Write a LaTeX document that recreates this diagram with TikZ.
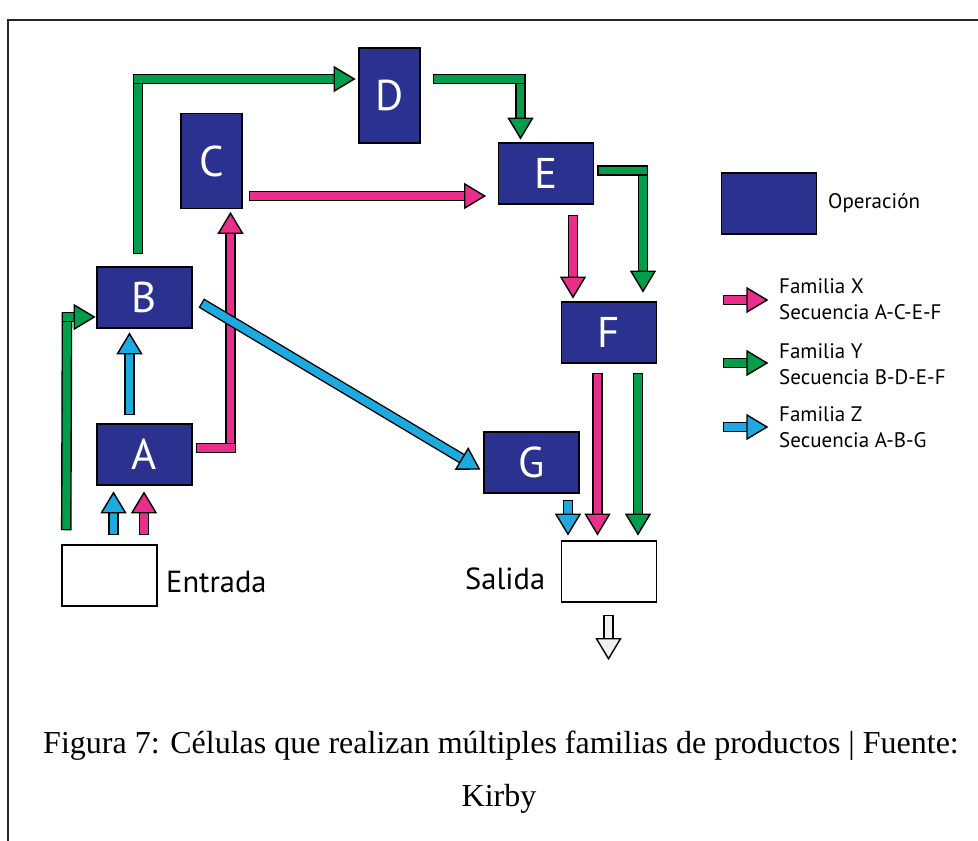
\documentclass[tikz,border=0pt]{standalone}
\usepackage{fontspec}
\setmainfont{Liberation Serif}
\newfontfamily\labelfont{PT Sans}
\usetikzlibrary{calc}

\definecolor{opblue}{RGB}{43,49,143}
\definecolor{famx}{RGB}{233,46,139}
\definecolor{famy}{RGB}{0,158,75}
\definecolor{famz}{RGB}{28,170,224}
\definecolor{outgray}{RGB}{240,240,240}

\tikzset{
  op/.style={draw=black, line width=1.5pt, fill=opblue, text=white,
    minimum width=95pt, minimum height=61pt, inner sep=0pt,
    font=\labelfont\fontsize{43}{43}\selectfont},
  opv/.style={op, minimum width=61pt, minimum height=95pt},
  port/.style={draw=black, line width=1.5pt, fill=white,
    minimum width=95pt, minimum height=61pt, inner sep=0pt},
  shaft/.style={draw=#1, line width=7.8pt, line cap=butt,
    preaction={draw=black, line width=10.6pt, line cap=butt,
      shorten <=-1.4pt, shorten >=-1.4pt}},
  pics/tip/.style={code={
    \draw[fill=#1, line width=1.4pt, line join=miter]
      (0,0) -- (-20,12) -- (-20,-12) -- cycle;}},
  lbl/.style={inner sep=0pt, font=\labelfont\fontsize{30.5}{30.5}\selectfont},
  legtxt/.style={inner sep=0pt, anchor=west, align=left,
    font=\labelfont\fontsize{21}{25.5}\selectfont},
}

\begin{document}
\begin{tikzpicture}[x=1pt, y=-1pt]
\useasboundingbox (0,0) rectangle (978,841);
\fill[white] (0,0) rectangle (978,841);

% frame
\draw[line width=2.2pt, black!85, line join=miter] (978,20) -- (8,20) -- (8,841);

% operations
\node[op]  (A) at (144.5,454.5) {A};
\node[op]  (B) at (144.5,297.5) {B};
\node[opv] (C) at (211.5,161)   {C};
\node[opv] (D) at (389.5,95.5)  {D};
\node[op]  (E) at (546,173.5)   {E};
\node[op]  (F) at (609,332.5)   {F};
\node[op]  (G) at (531.5,462.5) {G};

% input and output
\node[port] (in)  at (109.5,575.5) {};
\node[port] (out) at (609,571.5)   {};
\node[lbl, anchor=base west] (inlbl)  at (166,592) {Entrada};
\node[lbl, anchor=base west] (outlbl) at (465,589) {Salida};

% family Y: entrada -> B
\draw[shaft=famy] ($(in.north west)+(5,-15.4)$) -- (67,313.5);
\draw[shaft=famy] (63,317) -- (78,317);
\pic at ($(B.west)+(-2,19.5)$) {tip=famy};

% family Z and X: entrada -> A
\draw[shaft=famz] ($(in.north)+(4,-10.4)$) -- (113.5,511);
\pic[rotate=90] at ($(A.south)+(-31,7)$) {tip=famz};
\draw[shaft=famx] ($(in.north)+(34.5,-10.4)$) -- (144,511);
\pic[rotate=90] at ($(A.south)+(-0.5,7)$) {tip=famx};

% family Z: A -> B
\draw[shaft=famz] ($(A.north)+(-15,-9.4)$) -- (129.5,352);
\pic[rotate=90] at ($(B.south)+(-15,5)$) {tip=famz};

% family X: A -> C
\draw[shaft=famx] (230.5,450.6) -- (230.5,232);
\draw[shaft=famx] ($(A.east)+(4.4,-6.5)$) -- (234.6,448);
\pic[rotate=90] at ($(C.south)+(19,4)$) {tip=famx};

% family Y: B -> D
\draw[shaft=famy] ($(B.north)+(-6.5,-13.4)$) -- (138,75.4);
\draw[shaft=famy] (134.4,79) -- (337,79);
\pic at ($(D.west)+(-4,-16.5)$) {tip=famy};

% family X: C -> E
\draw[shaft=famx] ($(C.east)+(7.4,35)$) -- (467,196);
\pic at ($(E.west)+(-13,22.5)$) {tip=famx};

% family Y: D -> E
\draw[shaft=famy] (520.5,75.4) -- (520.5,121);
\draw[shaft=famy] ($(D.east)+(13.4,-16.5)$) -- (524.4,79);
\pic[rotate=-90] at ($(E.north)+(-25.5,-4)$) {tip=famy};

% family Y: E -> F
\draw[shaft=famy] (643,166.6) -- (643,274);
\draw[shaft=famy] ($(E.east)+(4.4,-3)$) -- (646.9,170.5);
\pic[rotate=-90] at ($(F.north)+(34,-10)$) {tip=famy};

% family X: E -> F
\draw[shaft=famx] ($(E.south)+(27,11.4)$) -- (573,280);
\pic[rotate=-90] at ($(F.north)+(-36,-4)$) {tip=famx};

% family Z: B -> G
\coordinate (zs) at ($(B.east)+(8.5,5.5)$);
\coordinate (zt) at ($(G.west)+(-4,6.5)$);
\draw[shaft=famz] ($(zs)!1.4pt!(zt)$) -- ($(zt)!19pt!(zs)$);
\pic[rotate=-30.7] at (zt) {tip=famz};

% F and G -> salida
\draw[shaft=famx] ($(F.south)+(-11.5,10.4)$) -- (597.5,517);
\pic[rotate=-90] at ($(out.north)+(-11.5,-6)$) {tip=famx};
\draw[shaft=famy] ($(F.south)+(29,10.4)$) -- (638,517);
\pic[rotate=-90] at ($(out.north)+(29,-6)$) {tip=famy};
\draw[shaft=famz] ($(G.south)+(36.5,7.4)$) -- (568,517);
\pic[rotate=-90] at ($(out.north)+(-41,-6)$) {tip=famz};

% salida -> exit
\coordinate (exit) at ($(out.south)+(-0.5,56)$);
\draw[shaft=outgray] ($(out.south)+(-0.5,13.4)$) -- (608.5,639);
\pic[rotate=-90] at (exit) {tip=outgray};

% legend
\node[op] (legop) at (769,203.5) {};
\node[legtxt, font=\labelfont\fontsize{21}{21}\selectfont] (legoplbl) at (828,203) {Operación};

\draw[shaft=famx] (724.4,300) -- (749,300);
\pic at (767,300) {tip=famx};
\node[legtxt] (legx) at (779,299) {Familia X\\Secuencia A-C-E-F};

\draw[shaft=famy] (724.4,363) -- (749,363);
\pic at (767,363) {tip=famy};
\node[legtxt] (legy) at (779,364) {Familia Y\\Secuencia B-D-E-F};

\draw[shaft=famz] (724.4,427) -- (749,427);
\pic at (767,427) {tip=famz};
\node[legtxt] (legz) at (779,427) {Familia Z\\Secuencia A-B-G};

% caption
\node[inner sep=0pt, anchor=base, font=\fontsize{32}{32}\selectfont] (cap1) at (501,753)
  {Figura 7: Células que realizan múltiples familias de productos | Fuente:};
\node[inner sep=0pt, anchor=base, font=\fontsize{32}{32}\selectfont] (cap2) at (499,806) {Kirby};
\end{tikzpicture}
\end{document}
